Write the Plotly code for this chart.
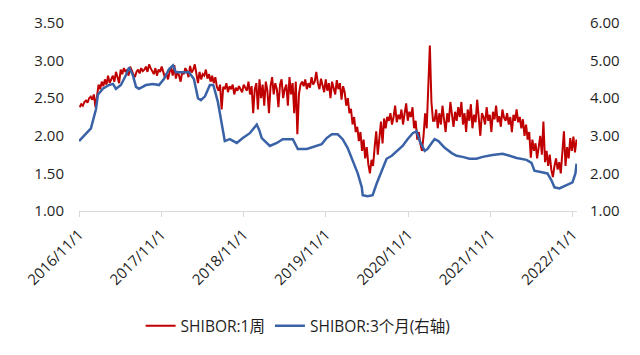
import pandas as pd
import plotly.graph_objects as go

# SHIBOR 1-week (left axis), weekly readings starting 2016-11-04
red_start = "2016-11-04"
red_vals = [
    2.38, 2.42, 2.40, 2.45, 2.47, 2.44, 2.50, 2.52, 2.48, 2.55,
    2.38, 2.55, 2.68,
    2.62, 2.72, 2.66, 2.75, 2.68, 2.80, 2.70, 2.74,
    2.80, 2.72, 2.85, 2.78, 2.70, 2.88, 2.82,
    2.90, 2.85, 2.88, 2.80, 2.92, 2.86, 2.82, 2.78, 2.85, 2.88, 2.83, 2.90, 2.86,
    2.88, 2.92, 2.85, 2.95, 2.90, 2.86, 2.82, 2.90, 2.80, 2.88, 2.85, 2.92, 2.84, 2.78, 2.82,
    2.75, 2.85, 2.90, 2.80, 2.94, 2.76, 2.86, 2.80, 2.72, 2.85,
    2.82, 2.90, 2.86, 2.78, 2.93, 2.84, 2.88, 2.95, 2.80, 2.70, 2.85, 2.75, 2.82,
    2.80, 2.88, 2.76, 2.82, 2.72, 2.80, 2.70, 2.78, 2.65,
    2.60, 2.68, 2.35, 2.65, 2.62, 2.70, 2.58, 2.66, 2.62, 2.68, 2.55, 2.64, 2.60,
    2.66, 2.62, 2.58, 2.68, 2.64, 2.60, 2.72, 2.55, 2.66, 2.30, 2.62, 2.70, 2.35, 2.75, 2.50,
    2.68, 2.40, 2.72, 2.60, 2.30, 2.66, 2.78, 2.55, 2.70, 2.62, 2.38, 2.68, 2.75, 2.50, 2.62,
    2.68, 2.40, 2.78, 2.55, 2.70, 2.30, 2.72, 2.02, 2.55, 2.68,
    2.72, 2.66, 2.75, 2.62, 2.70, 2.64, 2.78, 2.68, 2.72, 2.85, 2.70, 2.62, 2.76, 2.66, 2.58,
    2.75, 2.60, 2.70, 2.50, 2.72, 2.65, 2.55, 2.74, 2.62, 2.70, 2.48, 2.66, 2.58, 2.40, 2.50,
    2.30, 2.36, 2.15, 2.25, 2.05, 2.12, 1.93, 2.05, 1.80, 1.95, 1.70, 1.85, 1.62, 1.50, 1.68,
    1.60, 1.85, 2.06, 1.75, 1.95, 2.19, 1.90, 2.23, 2.10, 2.25,
    2.20, 2.30, 2.15, 2.25, 2.40, 2.18, 2.28, 2.22, 2.35, 2.15, 2.30, 2.43, 2.20, 2.32, 2.25,
    2.38, 2.10, 2.20, 1.95, 2.05, 1.89, 1.80, 2.00, 2.30, 2.10,
    2.55, 3.20, 2.45, 2.20,
    2.20, 2.35, 2.10, 2.30, 2.15, 2.40, 2.22, 2.05, 2.30, 2.18, 2.45, 2.25, 2.12, 2.32, 2.20, 2.38,
    2.25, 2.45, 2.15, 2.30, 2.05, 2.35, 2.20, 2.42, 2.10, 2.28, 2.18, 2.48, 2.22, 2.00, 2.30,
    2.25, 2.15, 2.38, 2.20, 2.28, 2.05, 2.32, 2.22, 2.40, 2.18, 2.26, 2.12, 2.35, 2.24, 2.20,
    2.30, 2.15, 2.25, 2.05, 2.28, 2.20, 2.35, 2.18, 2.25, 2.10, 2.22, 2.00, 2.15, 1.95, 2.05,
    1.71, 1.95, 1.80, 1.90, 1.70, 1.85, 2.00, 1.75, 2.19, 1.65, 1.80, 1.60, 1.75, 1.55, 1.45,
    1.60, 1.70, 1.55, 1.65, 1.50, 1.75, 2.06, 1.60, 1.85, 1.70, 1.97,
    1.80, 1.99, 1.78, 1.95,
]

# SHIBOR 3-month (right axis)
blue_dates = [
    "2016-11-01", "2016-12-24", "2017-01-15", "2017-01-24", "2017-02-15", "2017-03-14",
    "2017-04-01", "2017-04-14", "2017-05-06", "2017-05-28", "2017-06-11", "2017-06-28",
    "2017-07-12", "2017-07-25", "2017-08-25", "2017-09-25", "2017-10-22", "2017-11-13",
    "2017-12-05", "2017-12-23", "2018-01-05", "2018-01-27", "2018-03-04", "2018-03-26",
    "2018-04-13", "2018-04-26", "2018-05-14", "2018-06-05", "2018-06-20", "2018-07-10",
    "2018-07-28", "2018-08-10", "2018-09-01", "2018-10-02", "2018-10-29", "2018-11-29",
    "2018-12-30", "2019-01-10", "2019-01-21", "2019-02-26", "2019-03-29", "2019-04-24",
    "2019-06-08", "2019-06-30", "2019-08-09", "2019-09-22", "2019-10-14", "2019-11-05",
    "2019-11-28", "2019-12-24", "2020-01-15", "2020-02-06", "2020-02-29", "2020-03-22",
    "2020-04-09", "2020-04-13", "2020-05-05", "2020-05-27", "2020-06-14", "2020-07-06",
    "2020-07-28", "2020-08-20", "2020-09-15", "2020-10-07", "2020-10-29", "2020-11-21",
    "2020-12-08", "2020-12-22", "2021-01-13", "2021-01-26", "2021-02-13", "2021-02-26",
    "2021-03-15", "2021-04-12", "2021-05-13", "2021-06-04", "2021-06-30", "2021-07-31",
    "2021-08-31", "2021-09-27", "2021-11-10", "2021-12-25", "2022-01-25", "2022-02-25",
    "2022-04-10", "2022-05-02", "2022-05-15", "2022-06-20", "2022-07-12", "2022-07-30",
    "2022-08-12", "2022-09-03", "2022-10-04", "2022-10-31", "2022-11-13", "2022-11-18",
]
blue_vals = [
    2.86, 3.20, 3.70, 4.09, 4.25, 4.35,
    4.38, 4.25, 4.35, 4.61, 4.82, 4.61,
    4.30, 4.25, 4.35, 4.38, 4.35, 4.51,
    4.77, 4.87, 4.69, 4.69, 4.69, 4.51,
    4.00, 3.95, 4.05, 4.35, 4.35, 3.91,
    3.30, 2.86, 2.91, 2.81, 2.94, 3.07,
    3.30, 3.15, 2.94, 2.73, 2.81, 2.91,
    2.91, 2.65, 2.65, 2.73, 2.78, 2.94,
    3.04, 3.04, 2.91, 2.68, 2.33, 2.00,
    1.63, 1.42, 1.39, 1.42, 1.73, 2.07,
    2.39, 2.47, 2.60, 2.73, 2.91, 3.07,
    3.12, 2.86, 2.60, 2.65, 2.81, 2.91,
    2.86, 2.68, 2.54, 2.47, 2.44, 2.39,
    2.39, 2.44, 2.49, 2.52, 2.47, 2.41,
    2.36, 2.28, 2.07, 2.02, 2.00, 1.81,
    1.63, 1.60, 1.68, 1.76, 2.00, 2.26,
]

tick_dates = ["2016-11-01", "2017-11-01", "2018-11-01", "2019-11-01",
              "2020-11-01", "2021-11-01", "2022-11-01"]
tick_labels = ["2016/11/1", "2017/11/1", "2018/11/1", "2019/11/1",
               "2020/11/1", "2021/11/1", "2022/11/1"]

red_dates = pd.date_range(red_start, periods=len(red_vals), freq="7D")

FONT = "Open Sans, Noto Sans CJK SC, sans-serif"
fig = go.Figure()
fig.add_trace(go.Scatter(x=red_dates, y=red_vals, mode="lines", name="SHIBOR:1周",
                         line=dict(color="#C00000", width=2)))
fig.add_trace(go.Scatter(x=blue_dates, y=blue_vals, mode="lines", name="SHIBOR:3个月(右轴)",
                         yaxis="y2", line=dict(color="#3A62A7", width=2.5)))

fig.update_layout(
    width=640, height=355,
    margin=dict(l=79, r=63, t=20, b=144),
    paper_bgcolor="white", plot_bgcolor="white",
    font=dict(family=FONT, size=15, color="#1F1F1F"),
    showlegend=True,
    legend=dict(orientation="h", x=0.44, xanchor="center", y=-0.613, yanchor="middle",
                font=dict(size=15.5), bgcolor="rgba(0,0,0,0)", itemwidth=30),
    xaxis=dict(type="date", range=["2016-11-01", "2022-11-20"],
               tickvals=tick_dates, ticktext=tick_labels, tickangle=-45,
               showgrid=False, zeroline=False, showline=True, linecolor="#D9D9D9",
               linewidth=1, ticks="outside", ticklen=5, tickcolor="#D9D9D9",
               ticklabelstandoff=3),
    yaxis=dict(range=[1, 3.5], dtick=0.5, tick0=1, tickformat=".2f",
               showgrid=False, zeroline=False, showline=False, ticks="",
               ticklabelstandoff=14),
    yaxis2=dict(range=[1, 6], dtick=1, tick0=1, tickformat=".2f", overlaying="y",
                side="right", showgrid=False, zeroline=False, showline=False, ticks="",
                ticklabelstandoff=12),
)

fig.write_html("out.html")
